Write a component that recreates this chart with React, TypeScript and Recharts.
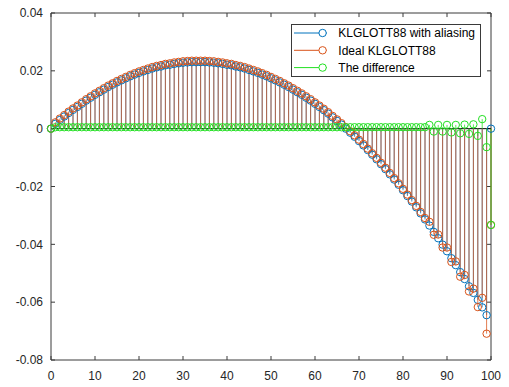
import React from 'react';
import { ComposedChart, Scatter, XAxis, YAxis, ErrorBar, Legend } from 'recharts';

// Samples n = 0..100 (array index is the sample number)
const aliased = [
  0, 0.0017, 0.0030, 0.0042, 0.0054, 0.0065, 0.0075, 0.0086, 0.0097, 0.0107,
  0.0117, 0.0126, 0.0135, 0.0144, 0.0152, 0.0160, 0.0167, 0.0174, 0.0181, 0.0187,
  0.0193, 0.0198, 0.0203, 0.0208, 0.0212, 0.0215, 0.0219, 0.0221, 0.0224, 0.0226,
  0.0228, 0.0229, 0.0230, 0.0230, 0.0230, 0.0230, 0.0229, 0.0228, 0.0226, 0.0224,
  0.0221, 0.0219, 0.0215, 0.0212, 0.0208, 0.0203, 0.0198, 0.0193, 0.0187, 0.0181,
  0.0174, 0.0167, 0.0160, 0.0152, 0.0144, 0.0135, 0.0126, 0.0117, 0.0107, 0.0097,
  0.0086, 0.0075, 0.0064, 0.0052, 0.0039, 0.0027, 0.0014, 0, -0.0014, -0.0028,
  -0.0043, -0.0058, -0.0074, -0.0090, -0.0106, -0.0123, -0.0140, -0.0158, -0.0176, -0.0194,
  -0.0213, -0.0233, -0.0252, -0.0272, -0.0293, -0.0314, -0.0335, -0.0357, -0.0379, -0.0401,
  -0.0424, -0.0448, -0.0472, -0.0496, -0.0520, -0.0545, -0.0568, -0.0592, -0.0618, -0.0645,
  0,
];

const ideal = [
  0, 0.0022, 0.0035, 0.0047, 0.0059, 0.0070, 0.0080, 0.0091, 0.0102, 0.0112,
  0.0122, 0.0131, 0.0140, 0.0149, 0.0157, 0.0165, 0.0172, 0.0179, 0.0186, 0.0192,
  0.0198, 0.0203, 0.0208, 0.0213, 0.0217, 0.0220, 0.0224, 0.0226, 0.0229, 0.0231,
  0.0233, 0.0234, 0.0235, 0.0235, 0.0235, 0.0235, 0.0234, 0.0233, 0.0231, 0.0229,
  0.0226, 0.0224, 0.0220, 0.0217, 0.0213, 0.0208, 0.0203, 0.0198, 0.0192, 0.0186,
  0.0179, 0.0172, 0.0165, 0.0157, 0.0149, 0.0140, 0.0131, 0.0122, 0.0112, 0.0102,
  0.0091, 0.0080, 0.0069, 0.0057, 0.0044, 0.0032, 0.0019, 0.0005, -0.0009, -0.0023,
  -0.0038, -0.0053, -0.0069, -0.0085, -0.0101, -0.0118, -0.0135, -0.0153, -0.0171, -0.0189,
  -0.0208, -0.0228, -0.0247, -0.0267, -0.0288, -0.0309, -0.0322, -0.0367, -0.0366, -0.0411,
  -0.0411, -0.0461, -0.0459, -0.0512, -0.0506, -0.0563, -0.0553, -0.0617, -0.0585, -0.0709,
  -0.0333,
];

const difference = [
  0, 0.0005, 0.0005, 0.0005, 0.0005, 0.0005, 0.0005, 0.0005, 0.0005, 0.0005,
  0.0005, 0.0005, 0.0005, 0.0005, 0.0005, 0.0005, 0.0005, 0.0005, 0.0005, 0.0005,
  0.0005, 0.0005, 0.0005, 0.0005, 0.0005, 0.0005, 0.0005, 0.0005, 0.0005, 0.0005,
  0.0005, 0.0005, 0.0005, 0.0005, 0.0005, 0.0005, 0.0005, 0.0005, 0.0005, 0.0005,
  0.0005, 0.0005, 0.0005, 0.0005, 0.0005, 0.0005, 0.0005, 0.0005, 0.0005, 0.0005,
  0.0005, 0.0005, 0.0005, 0.0005, 0.0005, 0.0005, 0.0005, 0.0005, 0.0005, 0.0005,
  0.0005, 0.0005, 0.0005, 0.0005, 0.0005, 0.0005, 0.0005, 0.0005, 0.0005, 0.0005,
  0.0005, 0.0005, 0.0005, 0.0005, 0.0005, 0.0005, 0.0005, 0.0005, 0.0005, 0.0005,
  0.0005, 0.0005, 0.0005, 0.0005, 0.0005, 0.0005, 0.0013, -0.0010, 0.0013, -0.0010,
  0.0013, -0.0013, 0.0013, -0.0016, 0.0014, -0.0018, 0.0015, -0.0025, 0.0033, -0.0064,
  -0.0333,
];

const xTicks = [0, 10, 20, 30, 40, 50, 60, 70, 80, 90, 100];
const yTicks = [-0.08, -0.06, -0.04, -0.02, 0, 0.02, 0.04];
const yTickLabels = ['-0.08', '-0.06', '-0.04', '-0.02', '0', '0.02', '0.04'];
const X_MIN = 0;
const X_MAX = 100;
const Y_MIN = -0.08;
const Y_MAX = 0.04;
// inward tick lengths of the top/right frame, in data units
const X_TICK_LEN = 0.9;
const Y_TICK_LEN = 0.0014;

const seriesNames = ['KLGLOTT88 with aliasing', 'Ideal KLGLOTT88', 'The difference'];
const seriesColors = ['#0072BD', '#D95319', '#22E022'];
const seriesValues = [aliased, ideal, difference];

const AXIS_COLOR = '#3a3a3a';
const FONT = '"Liberation Sans", Arial, sans-serif';

const toPoints = (vals: number[]) => vals.map((v, i) => ({ n: i, v }));
// stem from the zero baseline to the sample value
const stemSpan = (d: { v: number }) => (d.v >= 0 ? [d.v, 0] : [0, -d.v]);

// frame pieces, each a point with a one-sided error span
const topEdge = [{ n: X_MIN, v: Y_MAX, ex: [0, X_MAX - X_MIN] }];
const rightEdge = [{ n: X_MAX, v: Y_MIN, ey: [0, Y_MAX - Y_MIN] }];
const baseline = [{ n: X_MIN, v: 0, ex: [0, X_MAX - X_MIN] }];
const topTicks = xTicks.map((t) => ({ n: t, v: Y_MAX, ey: [Y_TICK_LEN, 0] }));
const rightTicks = yTicks.map((t) => ({ n: X_MAX, v: t, ex: [X_TICK_LEN, 0] }));

const ring = (color: string) => (props: any) => {
  if (props.cx == null || props.cy == null) return <g />;
  return <circle cx={props.cx} cy={props.cy} r={3.7} fill="none" stroke={color} strokeWidth={1} />;
};
const noMark = () => <g />;

const LegendBox = () => (
  <svg width={191} height={54} style={{ display: 'block' }}>
    <rect x={0.5} y={0.5} width={189} height={52} fill="#fff" stroke={AXIS_COLOR} strokeWidth={1} />
    {seriesNames.map((name, i) => {
      const y = 9 + i * 17.3;
      return (
        <g key={name}>
          <line x1={3} y1={y} x2={36} y2={y} stroke={seriesColors[i]} strokeWidth={1} />
          <circle cx={31.6} cy={y} r={3.7} fill="#fff" stroke={seriesColors[i]} strokeWidth={1} />
          <text x={47.3} y={y} dy="0.35em" fontSize={12} fontFamily={FONT} fill="#000">
            {name}
          </text>
        </g>
      );
    })}
  </svg>
);

export default function App() {
  const tickStyle = { fontSize: 12, fontFamily: FONT, fill: '#262626' };
  const frame = [
    { data: topEdge, dir: 'x', keyName: 'ex', color: AXIS_COLOR },
    { data: rightEdge, dir: 'y', keyName: 'ey', color: AXIS_COLOR },
    { data: topTicks, dir: 'y', keyName: 'ey', color: AXIS_COLOR },
    { data: rightTicks, dir: 'x', keyName: 'ex', color: AXIS_COLOR },
    { data: baseline, dir: 'x', keyName: 'ex', color: '#000' },
  ];
  return (
    <div style={{ position: 'absolute', left: 0, top: 0, background: '#fff' }}>
      <ComposedChart width={509} height={387} margin={{ top: 13, right: 18, bottom: 0, left: 0 }}>
        <XAxis
          xAxisId="x"
          dataKey="n"
          type="number"
          domain={[X_MIN, X_MAX]}
          ticks={xTicks}
          height={27}
          tickSize={-4}
          tickMargin={15}
          stroke={AXIS_COLOR}
          tick={tickStyle}
          interval={0}
        />
        <YAxis
          yAxisId="y"
          type="number"
          domain={[Y_MIN, Y_MAX]}
          ticks={yTicks}
          width={51}
          tickSize={-4}
          tickMargin={12}
          stroke={AXIS_COLOR}
          tick={tickStyle}
          interval={0}
          tickFormatter={(v: number) => yTickLabels[yTicks.indexOf(v)] ?? String(v)}
        />
        {frame.map((f, i) => (
          <Scatter
            key={`frame${i}`}
            xAxisId="x"
            yAxisId="y"
            data={f.data}
            dataKey="v"
            isAnimationActive={false}
            shape={noMark}
            legendType="none"
          >
            <ErrorBar
              dataKey={f.keyName}
              direction={f.dir as 'x' | 'y'}
              width={0}
              stroke={f.color}
              strokeWidth={1}
              isAnimationActive={false}
            />
          </Scatter>
        ))}
        {seriesValues.map((vals, i) => (
          <Scatter
            key={seriesNames[i]}
            name={seriesNames[i]}
            xAxisId="x"
            yAxisId="y"
            data={toPoints(vals)}
            dataKey="v"
            isAnimationActive={false}
            shape={ring(seriesColors[i])}
          >
            <ErrorBar
              dataKey={stemSpan as any}
              direction="y"
              width={0}
              stroke={seriesColors[i]}
              strokeWidth={1}
              strokeOpacity={0.75}
              isAnimationActive={false}
            />
          </Scatter>
        ))}
        <Legend
          layout="vertical"
          align="center"
          verticalAlign="middle"
          wrapperStyle={{ position: 'absolute', left: 291, top: 24, width: 191, height: 54 }}
          content={() => <LegendBox />}
        />
      </ComposedChart>
    </div>
  );
}
